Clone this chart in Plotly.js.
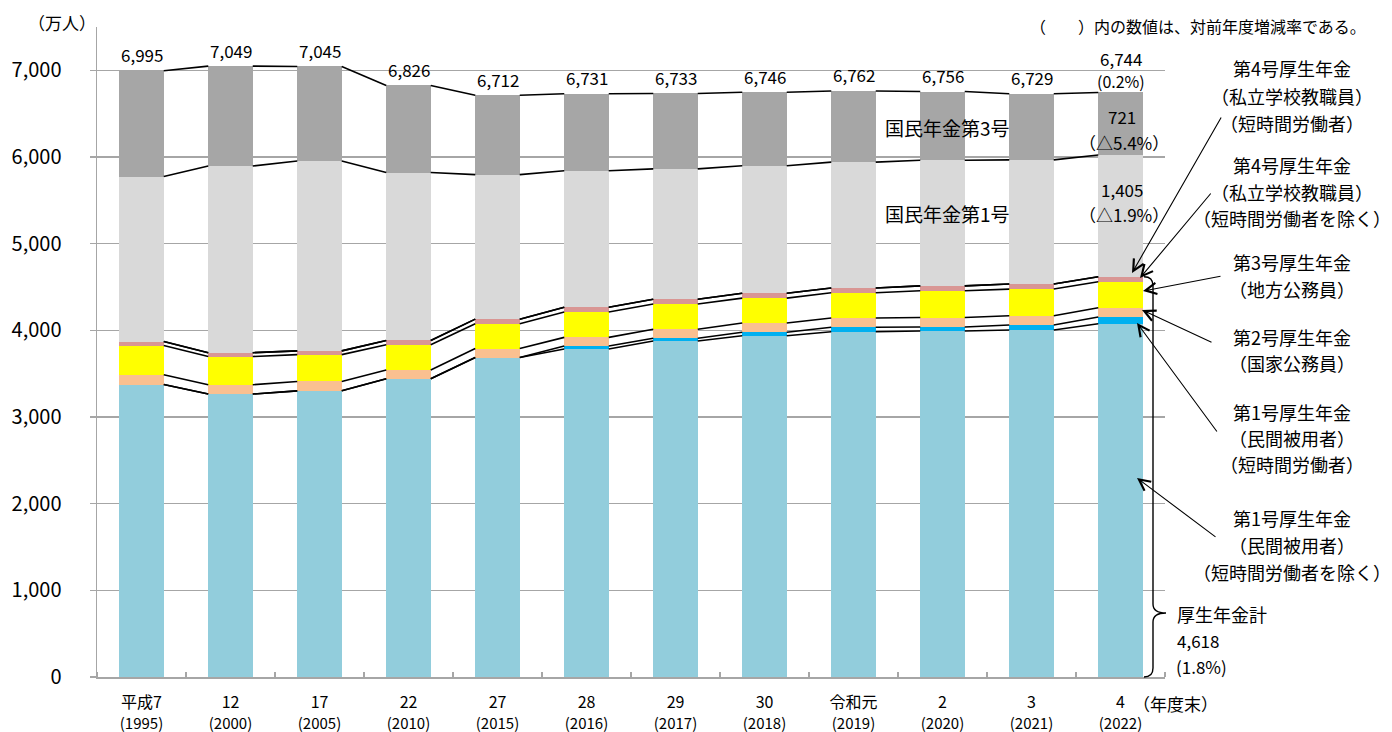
<!DOCTYPE html>
<html>
<head>
<meta charset="utf-8">
<script src="https://cdn.plot.ly/plotly-3.0.1.min.js"></script>
<style>html,body{margin:0;padding:0;background:#fff;}#chart{width:1392px;height:732px;}</style>
</head>
<body>
<div id="chart"></div>
<script>
// ---- data (万人) ----
const eraLabels = ['平成7','12','17','22','27','28','29','30','令和元','2','3','4'];
const westernYears = ['1995','2000','2005','2010','2015','2016','2017','2018','2019','2020','2021','2022'];
const kosei1 = [3375,3265,3302,3441,3686,3785,3877,3938,3984,3992,4003,4076];      // 第1号厚生年金（短時間労働者を除く）
const kosei1Short = [0,0,0,0,0,34,31,39,51,46,58,77];                              // 第1号厚生年金（短時間労働者）
const kosei2 = [113,107,108,102,104,100,104,107,107,110,107,107];                  // 第2号厚生年金（国家公務員）
const kosei3 = [336,326,310,291,285,292,291,288,291,308,308,300];                  // 第3号厚生年金（地方公務員）
const kosei4 = [47,44,43,49,54,55,55,56,55,57,59,58];                              // 第4号厚生年金（私立学校教職員）（短時間労働者を除く）
const kosei4Short = [0,0,0,0,0,0.2,0.2,0.3,0.3,0.3,0.4,0.4];                       // 第4号厚生年金（短時間労働者）
const kokumin1 = [1904,2154,2190,1938,1668,1575,1505,1471,1453,1449,1431,1405];    // 国民年金第1号
const kokumin3 = [1220,1153,1092,1005,915,889,870,847,820,793,763,721];            // 国民年金第3号
const totals = [6995,7049,7045,6826,6712,6731,6733,6746,6762,6756,6729,6744];
const totalChangeLast = '0.2%';
const kokumin3ChangeLast = '△5.4%';
const kokumin1ChangeLast = '△1.9%';
const koseiTotalLast = 4618;
const koseiChangeLast = '1.8%';

const FONT = 'Noto Sans CJK JP, sans-serif';
const n = eraLabels.length;
const xs = eraLabels.map((_, i) => i);
const BW = 0.5;

const segments = [
  {y: kosei1, color: '#92CDDC'},
  {y: kosei1Short, color: '#00B0F0'},
  {y: kosei2, color: '#FAC090'},
  {y: kosei3, color: '#FFFF00'},
  {y: kosei4, color: '#D99694'},
  {y: kosei4Short, color: '#E6B9B8'},
  {y: kokumin1, color: '#D9D9D9'},
  {y: kokumin3, color: '#A6A6A6'}
];

const traces = [];
segments.forEach(s => {
  traces.push({type: 'bar', x: xs, y: s.y, width: BW, marker: {color: s.color, line: {width: 0}},
    hoverinfo: 'skip', showlegend: false});
});

// series lines (Excel style) connecting cumulative tops between adjacent bars
let cum = new Array(n).fill(0);
segments.forEach(s => {
  cum = cum.map((c, i) => c + s.y[i]);
  const lx = [], ly = [];
  for (let i = 0; i < n - 1; i++) {
    lx.push(i + BW / 2, i + 1 - BW / 2, null);
    ly.push(cum[i], cum[i + 1], null);
  }
  traces.push({type: 'scatter', mode: 'lines', x: lx, y: ly, line: {color: '#000', width: 1.6},
    hoverinfo: 'skip', showlegend: false, connectgaps: false});
});

// pixel helpers for layout text placement
const L = 97, R = 1165, T = 27, B = 677;
const PX = x => (x - L) / (R - L);
const PY = y => (B - y) / (B - T);

const ann = [];
function txt(text, px, py, size, anchor, extra) {
  ann.push(Object.assign({xref: 'paper', yref: 'paper', x: PX(px), y: PY(py), text: text,
    showarrow: false, xanchor: anchor || 'center', yanchor: 'middle',
    font: {family: FONT, size: size, color: '#000'}}, extra || {}));
}
const fmt = v => v.toLocaleString('en-US');

// totals above bars
totals.forEach((t, i) => {
  if (i < n - 1) {
    ann.push({x: i, y: t, xref: 'x', yref: 'y', text: fmt(t), showarrow: false, yanchor: 'middle',
      yshift: 16, font: {family: FONT, size: 17, color: '#000'}});
  } else {
    ann.push({x: i, y: t, xref: 'x', yref: 'y', text: fmt(t), showarrow: false, yanchor: 'middle',
      yshift: 34, font: {family: FONT, size: 17, color: '#000'}});
    ann.push({x: i, y: t, xref: 'x', yref: 'y', text: '(' + totalChangeLast + ')', showarrow: false, yanchor: 'middle',
      yshift: 12, font: {family: FONT, size: 16, color: '#000'}});
  }
});

txt('（万人）', 62, 22, 17);
txt('（　　）内の数値は、対前年度増減率である。', 1198, 26, 16);

txt(fmt(kokumin3[n - 1]), 1122, 116, 17);
txt('（' + kokumin3ChangeLast + '）', 1124, 142, 17);
txt(fmt(kokumin1[n - 1]), 1122, 189, 17);
txt('（' + kokumin1ChangeLast + '）', 1124, 214, 17);
txt('国民年金第3号', 883, 128, 19, 'left');
txt('国民年金第1号', 883, 213, 19, 'left');

const RC = 1292;
const rightLabels = [
  [['第4号厚生年金', 68], ['（私立学校教職員）', 96], ['（短時間労働者）', 123]],
  [['第4号厚生年金', 165], ['（私立学校教職員）', 192], ['（短時間労働者を除く）', 218]],
  [['第3号厚生年金', 262], ['（地方公務員）', 289]],
  [['第2号厚生年金', 337], ['（国家公務員）', 363]],
  [['第1号厚生年金', 412], ['（民間被用者）', 438], ['（短時間労働者）', 464]],
  [['第1号厚生年金', 518], ['（民間被用者）', 545], ['（短時間労働者を除く）', 572]]
];
rightLabels.forEach(g => g.forEach(([t, y]) => txt(t, RC, y, 18)));

txt('厚生年金計', 1175, 614, 18, 'left');
txt(fmt(koseiTotalLast), 1175, 640, 17, 'left');
txt('(' + koseiChangeLast + ')', 1174, 666, 17, 'left');
txt('（年度末）', 1175, 703, 17);

// arrows from right labels to the last bar
const arrows = [
  {hx: 1132, hy: 273, tx: 1222, ty: 116},
  {hx: 1140, hy: 278, tx: 1212, ty: 192},
  {hx: 1143, hy: 291, tx: 1222, ty: 276},
  {hx: 1142, hy: 310, tx: 1213, ty: 343},
  {hx: 1137, hy: 323, tx: 1218, ty: 433},
  {hx: 1137, hy: 478, tx: 1217, ty: 538}
];
arrows.forEach(a => {
  ann.push({xref: 'paper', yref: 'paper', x: PX(a.hx), y: PY(a.hy), ax: a.tx - a.hx, ay: a.ty - a.hy,
    text: '', showarrow: true, arrowhead: 5, arrowsize: 2, arrowwidth: 1.1, arrowcolor: '#000'});
});

// curly brace for 厚生年金計
const yTopPx = B - koseiTotalLast / 7500 * (B - T);
const bx = PX(1153), bx0 = PX(1144), btip = PX(1166);
const tipY = PY(613), r = 9 / (B - T);
const yt = PY(yTopPx), yb = PY(B);
const bracePath = `M ${bx0},${yt} Q ${bx},${yt} ${bx},${yt - r} L ${bx},${tipY + r} Q ${bx},${tipY} ${btip},${tipY} ` +
  `Q ${bx},${tipY} ${bx},${tipY - r} L ${bx},${yb + r} Q ${bx},${yb} ${bx0},${yb}`;

const layout = {
  width: 1392, height: 732,
  margin: {l: L, r: 1392 - R, t: T, b: 732 - B},
  paper_bgcolor: '#fff', plot_bgcolor: '#fff',
  barmode: 'stack', bargap: 0.5,
  showlegend: false,
  font: {family: FONT, color: '#000'},
  xaxis: {
    range: [-0.5, n - 0.5], tickvals: xs,
    ticktext: eraLabels.map((e, i) => e + '<br><span style="font-size:15px">(' + westernYears[i] + ')</span>'),
    tickfont: {family: FONT, size: 16, color: '#000'},
    ticks: '', ticklabelstandoff: 10, showline: true, linecolor: '#A6A6A6', linewidth: 1.5,
    showgrid: false, zeroline: false, fixedrange: true,
    minor: {ticks: 'inside', tick0: 0.5, dtick: 1, ticklen: 5, tickcolor: '#A6A6A6', tickwidth: 1.2, showgrid: false}
  },
  yaxis: {
    range: [0, 7500], tickvals: [0,1000,2000,3000,4000,5000,6000,7000],
    ticktext: ['0','1,000','2,000','3,000','4,000','5,000','6,000','7,000'],
    tickfont: {family: FONT, size: 20, color: '#000'},
    ticks: 'outside', ticklen: 6, tickcolor: '#A6A6A6', tickwidth: 1.5, ticklabelstandoff: 24,
    showline: true, linecolor: '#A6A6A6', linewidth: 1.5,
    showgrid: true, gridcolor: '#A6A6A6', gridwidth: 1.5, zeroline: false, fixedrange: true
  },
  annotations: ann,
  shapes: [{type: 'path', xref: 'paper', yref: 'paper', path: bracePath,
    line: {color: '#000', width: 1.4}, layer: 'above'}]
};

Plotly.newPlot('chart', traces, layout, {staticPlot: true, displayModeBar: false});
</script>
</body>
</html>
